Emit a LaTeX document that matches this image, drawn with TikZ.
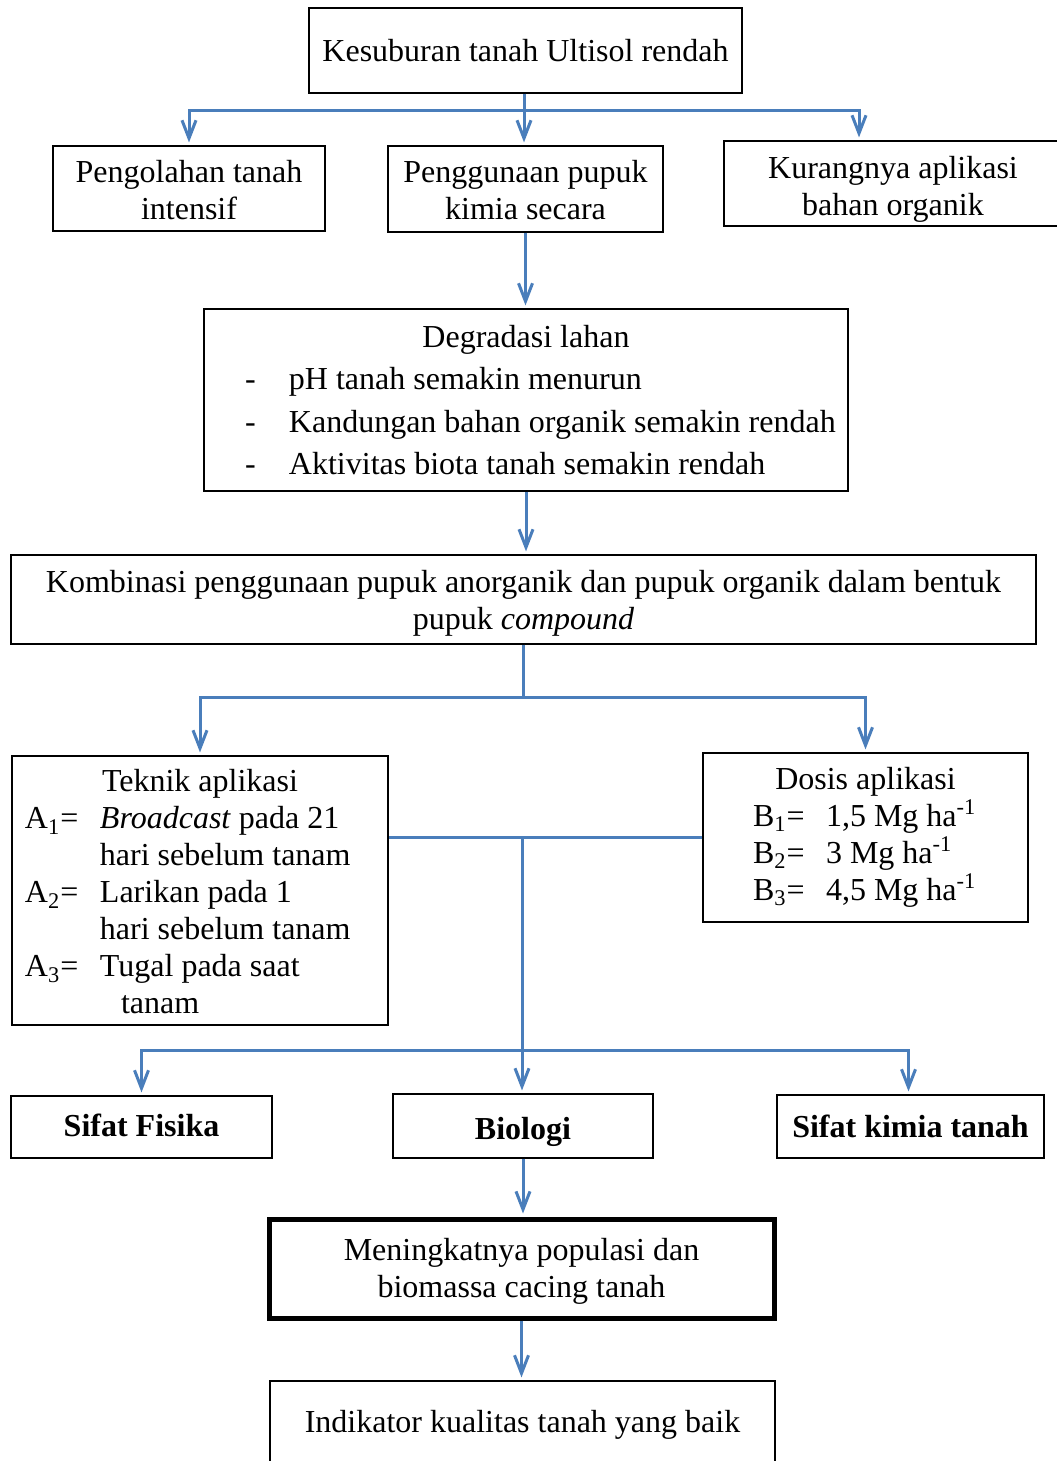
\documentclass[tikz,border=0pt]{standalone}
\usepackage{fontspec}
\setmainfont{Liberation Serif}
\usetikzlibrary{arrows.meta,calc}
\definecolor{linkblue}{RGB}{74,126,187}
\newcommand{\liftby}[1]{\rule{0pt}{#1}}

\begin{document}
\begin{tikzpicture}[x=0.5pt,y=-0.5pt,
    main box/.style={draw,inner sep=0pt,align=center,line width=0.6pt,
      font=\fontsize{16pt}{18.5pt}\selectfont},
    list box/.style={main box,align=flush left},
    bold box/.style={main box,font=\fontsize{16pt}{18.5pt}\selectfont\bfseries},
    link/.style={draw=linkblue,line width=1.5pt},
    arrow/.style={link,-{Straight Barb[length=9pt,width=7pt]},shorten >=1.5pt}]
    \useasboundingbox (0,0) rectangle (1056,1461);
    % nodes
      \node[main box,minimum width=216.5pt,minimum height=42.5pt] (kesuburan) at (525.5,50.5) {Kesuburan tanah Ultisol rendah};
      \node[main box,minimum width=136pt,minimum height=42.5pt] (pengolahan) at (189,188.5) {\liftby{12.6pt}Pengolahan tanah\\intensif};
      \node[main box,minimum width=137.5pt,minimum height=43pt] (penggunaan) at (525.5,189) {\liftby{12.6pt}Penggunaan pupuk\\kimia secara};
      \node[main box,minimum width=169pt,minimum height=42.5pt] (kurangnya) at (893,183.5) {\liftby{16.6pt}Kurangnya aplikasi\\bahan organik};
      \node[list box,minimum width=322pt,minimum height=91pt,text width=281pt,inner xsep=20.5pt,
        font=\fontsize{16pt}{21.3pt}\selectfont] (degradasi) at (526,400)
        {\makebox[\linewidth]{Degradasi lahan}\\
         \makebox[\linewidth][l]{\makebox[22pt][l]{-}pH tanah semakin menurun}\\
         \makebox[\linewidth][l]{\makebox[22pt][l]{-}Kandungan bahan organik semakin rendah}\\
         \makebox[\linewidth][l]{\makebox[22pt][l]{-}Aktivitas biota tanah semakin rendah}};
      \node[main box,minimum width=512.5pt,minimum height=44.5pt] (kombinasi) at (523.5,599.5)
        {\liftby{14.6pt}Kombinasi penggunaan pupuk anorganik dan pupuk organik dalam bentuk\\pupuk \textit{compound}};
      \node[list box,minimum width=188pt,minimum height=134.5pt,text width=175pt,inner xsep=6.5pt] (teknik) at (200,890.5)
        {\makebox[\linewidth]{\liftby{12.6pt}Teknik aplikasi}\\
         \makebox[37.5pt][l]{A\textsubscript{1}=}\textit{Broadcast} pada 21\\
         \hspace*{37.5pt}hari sebelum tanam\\
         \makebox[37.5pt][l]{A\textsubscript{2}=}Larikan pada 1\\
         \hspace*{37.5pt}hari sebelum tanam\\
         \makebox[37.5pt][l]{A\textsubscript{3}=}Tugal pada saat\\
         \hspace*{48pt}tanam};
      \node[list box,minimum width=162.5pt,minimum height=84.5pt,text width=112.5pt,inner xsep=25pt] (dosis) at (865.5,837.5)
        {\makebox[\linewidth]{Dosis aplikasi}\\
         \makebox[\linewidth][l]{\makebox[36.5pt][l]{B\textsubscript{1}=}1,5 Mg ha\textsuperscript{-1}}\\
         \makebox[\linewidth][l]{\makebox[36.5pt][l]{B\textsubscript{2}=}3 Mg ha\textsuperscript{-1}}\\
         \makebox[\linewidth][l]{\makebox[36.5pt][l]{B\textsubscript{3}=}4,5 Mg ha\textsuperscript{-1}}};
      \node[bold box,minimum width=130.5pt,minimum height=31pt] (fisika) at (141.5,1127) {\raisebox{2pt}{Sifat Fisika}};
      \node[bold box,minimum width=130pt,minimum height=32pt] (biologi) at (523,1126) {\liftby{17pt}Biologi};
      \node[bold box,minimum width=133.5pt,minimum height=31.5pt] (kimia) at (910.5,1126.5) {Sifat kimia tanah};
      \node[main box,line width=2.5pt,minimum width=252.5pt,minimum height=49.5pt] (meningkat) at (521.5,1268.5)
        {\liftby{13.6pt}Meningkatnya populasi dan\\biomassa cacing tanah};
      \node[main box,minimum width=252.5pt,minimum height=41pt] (indikator) at (522.5,1422) {\liftby{13.6pt}Indikator kualitas tanah yang baik};
    %edges
      \coordinate (top split) at (524,111);
      \coordinate (mid split) at (523,697);
      \coordinate (low split) at (522,1050);
      \draw[link] (kesuburan.south -| top split) -- (top split);
      \draw[arrow] (top split) -| (pengolahan.north);
      \draw[arrow] (top split) -- (penggunaan.north -| top split);
      \draw[arrow] (top split) -| ([xshift=-17pt]kurangnya.north);
      \draw[arrow] (penggunaan.south) -- (degradasi.north -| penggunaan.south);
      \draw[arrow] (degradasi.south) -- (kombinasi.north -| degradasi.south);
      \draw[link] (kombinasi.south -| mid split) -- (mid split);
      \draw[arrow] (mid split) -| (teknik.north);
      \draw[arrow] (mid split) -| (dosis.north);
      \draw[link] (dosis.west) -- (dosis.west -| teknik.east);
      \draw[arrow] (dosis.west -| low split) -- (biologi.north -| low split);
      \draw[arrow] (low split) -| (fisika.north);
      \draw[arrow] (low split) -| ([xshift=-1pt]kimia.north);
      \draw[arrow] (biologi.south) -- (meningkat.north -| biologi.south);
      \draw[arrow] (meningkat.south) -- (indikator.north -| meningkat.south);
\end{tikzpicture}
\end{document}
